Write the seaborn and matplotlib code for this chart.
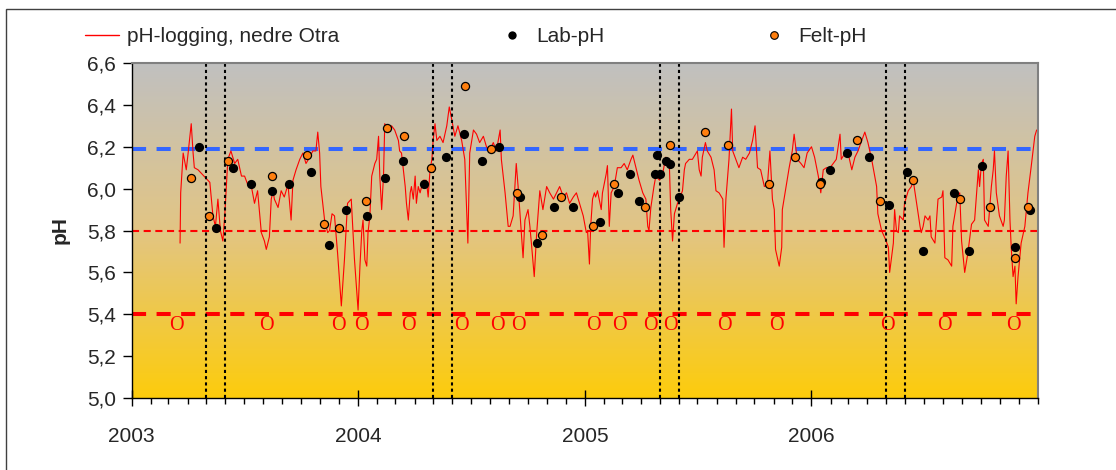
import numpy as np
import pandas as pd
import seaborn as sns
import matplotlib.pyplot as plt
import matplotlib.dates as mdates
from matplotlib.lines import Line2D
from matplotlib.patches import Rectangle
from matplotlib.colors import LinearSegmentedColormap

# day numbers are counted from 2003-01-01
start = pd.Timestamp('2003-01-01')

log_days_2003 = [78, 79, 83, 88, 91, 96, 99, 101, 107, 126, 131, 135, 139, 143, 147, 150, 152, 155,
                 160, 166, 171, 177, 182, 187, 193, 198, 203, 209, 214, 217, 222, 225, 228, 230,
                 236, 241, 246, 252, 257, 260, 265, 271, 276, 281, 287, 292, 297, 300, 303, 305,
                 311, 316, 319, 323, 327, 332, 338, 343, 348, 354, 359, 365]
log_ph_2003 = [5.74, 5.98, 6.17, 6.09, 6.17, 6.31, 6.17, 6.10, 6.09, 6.03, 5.87, 5.82, 5.95, 5.80,
               5.75, 5.87, 5.98, 6.14, 6.18, 6.12, 6.14, 6.06, 6.06, 6.02, 6.01, 5.93, 5.99, 5.79,
               5.75, 5.71, 5.77, 5.95, 5.99, 5.95, 5.91, 5.99, 5.96, 6.02, 5.85, 6.04, 6.09, 6.14,
               6.17, 6.12, 6.15, 6.18, 6.18, 6.27, 6.17, 6.01, 5.85, 5.79, 5.80, 5.88, 5.87, 5.69,
               5.44, 5.66, 5.93, 5.95, 5.67, 5.42]

log_days_2004 = [368, 371, 373, 376, 379, 381, 384, 387, 392, 395, 398, 400, 403, 406, 408, 414,
                 419, 424, 430, 432, 435, 438, 441, 443, 446, 449, 451, 454, 457, 459, 462, 465,
                 470, 475, 478, 481, 484, 486, 489, 492, 497, 502, 508, 512, 516, 521, 526, 532,
                 537, 542, 545, 551, 556, 561, 567, 572, 577, 583, 588, 594, 596, 602, 607, 610,
                 615, 620, 623, 626, 631, 634, 639, 642, 645, 649, 653, 658, 663, 669, 674, 680,
                 685, 690, 696, 701, 706, 712, 717, 722, 728, 733]
log_ph_2004 = [5.63, 5.80, 5.85, 5.66, 5.63, 5.79, 5.87, 6.06, 6.12, 6.14, 6.25, 6.06, 5.90, 6.06,
               6.31, 6.28, 6.30, 6.28, 6.23, 6.18, 6.17, 6.09, 6.01, 5.93, 5.85, 5.98, 6.01, 5.95,
               6.06, 5.93, 6.01, 5.98, 6.04, 6.04, 5.96, 6.09, 6.14, 6.23, 6.31, 6.23, 6.25, 6.22,
               6.30, 6.39, 6.33, 6.25, 6.30, 6.23, 6.14, 5.74, 6.17, 6.28, 6.26, 6.22, 6.25, 6.20,
               6.18, 6.22, 6.18, 6.28, 6.14, 5.98, 5.82, 5.82, 5.87, 6.12, 6.01, 5.88, 5.67, 5.85,
               5.90, 5.82, 5.72, 5.58, 5.79, 5.99, 5.90, 6.01, 5.98, 5.95, 5.98, 6.01, 5.96, 5.98,
               5.93, 5.96, 5.98, 5.93, 5.87, 5.79]

log_days_2005 = [735, 738, 740, 743, 746, 748, 751, 757, 759, 765, 767, 770, 773, 778, 783, 789,
                 794, 799, 805, 808, 813, 818, 824, 829, 832, 834, 837, 842, 845, 851, 856, 861,
                 867, 869, 872, 875, 877, 880, 883, 888, 891, 893, 899, 904, 910, 912, 915, 918,
                 920, 925, 928, 934, 939, 942, 947, 953, 955, 958, 963, 967, 969, 974, 979, 985,
                 990, 996, 1001, 1005, 1009, 1014, 1020, 1025, 1029, 1033, 1036, 1038, 1044, 1048,
                 1049, 1055, 1060, 1065, 1068, 1073, 1079, 1084, 1089]
log_ph_2005 = [5.80, 5.64, 5.82, 5.95, 5.98, 5.96, 5.99, 5.90, 5.98, 6.07, 6.11, 5.82, 5.98, 6.01,
               6.10, 6.10, 6.12, 6.09, 6.14, 6.16, 6.10, 6.04, 5.98, 5.95, 5.82, 5.80, 5.91, 6.01,
               6.06, 6.04, 6.07, 6.15, 6.10, 5.90, 5.75, 5.88, 5.90, 5.93, 5.95, 5.99, 6.09, 6.12,
               6.14, 6.14, 6.17, 6.18, 6.09, 6.06, 6.15, 6.22, 6.18, 6.15, 6.09, 5.99, 5.98, 5.95,
               5.72, 5.95, 6.14, 6.38, 6.18, 6.14, 6.10, 6.15, 6.14, 6.17, 6.23, 6.30, 6.10, 6.09,
               6.01, 6.02, 6.18, 5.95, 5.90, 5.71, 5.63, 5.72, 5.90, 6.01, 6.10, 6.18, 6.26, 6.14,
               6.12, 6.10, 6.17]

log_days_2006 = [1096, 1101, 1107, 1111, 1115, 1120, 1126, 1131, 1136, 1142, 1144, 1150, 1155, 1161,
                 1166, 1171, 1177, 1182, 1187, 1193, 1198, 1201, 1203, 1209, 1215, 1220, 1222, 1228,
                 1230, 1233, 1236, 1238, 1244, 1246, 1252, 1257, 1260, 1263, 1268, 1271, 1273, 1276,
                 1279, 1284, 1287, 1289, 1295, 1300, 1306, 1308, 1311, 1316, 1322, 1324, 1330, 1335,
                 1338, 1343, 1348, 1354, 1359, 1365, 1367, 1370, 1373, 1375, 1381, 1386, 1389, 1391,
                 1394, 1399, 1405, 1407, 1410, 1413, 1416, 1418, 1421, 1424, 1426, 1429, 1434, 1440,
                 1445, 1450, 1456, 1459]
log_ph_2006 = [6.20, 6.15, 6.06, 5.98, 6.09, 6.10, 6.10, 6.12, 6.14, 6.26, 6.14, 6.17, 6.17, 6.09,
               6.15, 6.18, 6.23, 6.27, 6.22, 6.14, 6.06, 6.01, 5.88, 5.80, 5.76, 5.72, 5.60, 5.74,
               5.90, 5.80, 5.79, 5.87, 5.85, 5.93, 5.99, 6.01, 6.04, 5.98, 5.88, 5.82, 5.79, 5.82,
               5.87, 5.85, 5.87, 5.77, 5.74, 5.95, 5.96, 5.99, 5.67, 5.66, 5.63, 5.82, 5.93, 5.98,
               5.75, 5.60, 5.69, 5.83, 5.85, 6.09, 6.01, 6.12, 6.14, 5.85, 5.82, 6.01, 6.09, 6.18,
               5.98, 5.87, 5.82, 5.85, 6.06, 6.18, 5.85, 5.72, 5.58, 5.63, 5.45, 5.58, 5.74, 5.82,
               5.98, 6.10, 6.25, 6.28]

lab_days = [108, 136, 163, 192, 227, 253, 289, 318, 346, 380, 408, 437, 471, 506, 535, 564, 592,
            626, 654, 681, 712, 755, 784, 804, 818, 843, 847, 852, 861, 868, 882, 1112, 1126, 1154,
            1188, 1221, 1250, 1276, 1326, 1350, 1371, 1424, 1448]
lab_ph = [6.20, 5.81, 6.10, 6.02, 5.99, 6.02, 6.08, 5.73, 5.90, 5.87, 6.05, 6.13, 6.02, 6.15, 6.26,
          6.13, 6.20, 5.96, 5.74, 5.91, 5.91, 5.84, 5.98, 6.07, 5.94, 6.07, 6.16, 6.07, 6.13, 6.12,
          5.96, 6.03, 6.09, 6.17, 6.15, 5.92, 6.08, 5.70, 5.98, 5.70, 6.11, 5.72, 5.90]

felt_days = [96, 124, 155, 227, 282, 310, 334, 378, 411, 439, 483, 537, 580, 621, 662, 692, 744,
             777, 827, 868, 925, 961, 1028, 1070, 1110, 1169, 1207, 1259, 1336, 1383, 1424, 1445]
felt_ph = [6.05, 5.87, 6.13, 6.06, 6.16, 5.83, 5.81, 5.94, 6.29, 6.25, 6.10, 6.49, 6.19, 5.98, 5.78,
           5.96, 5.82, 6.02, 5.91, 6.21, 6.27, 6.21, 6.02, 6.15, 6.02, 6.23, 5.94, 6.04, 5.95, 5.91,
           5.67, 5.91]

# days marked with "O" under the 5,4 line
low_days = [72, 217, 333, 371, 446, 532, 590, 623, 744, 786, 837, 869, 955, 1040, 1218, 1311, 1422]

survey_lines = ['2003-05-01', '2003-06-01', '2004-05-01', '2004-06-01',
                '2005-05-01', '2005-06-01', '2006-05-01', '2006-06-01']

level_blue = 6.19
level_red_thin = 5.8
level_red_thick = 5.4
o_level = 5.325

year_ticks = ['2003-01-01', '2004-01-01', '2005-01-01', '2006-01-01']
year_labels = ['2003', '2004', '2005', '2006']
y_ticks = [5.0, 5.2, 5.4, 5.6, 5.8, 6.0, 6.2, 6.4, 6.6]
y_labels = ['5,0', '5,2', '5,4', '5,6', '5,8', '6,0', '6,2', '6,4', '6,6']


def to_dates(days):
    return start + pd.to_timedelta(np.asarray(days), unit='D')


log = pd.DataFrame({
    'date': to_dates(log_days_2003 + log_days_2004 + log_days_2005 + log_days_2006),
    'ph': log_ph_2003 + log_ph_2004 + log_ph_2005 + log_ph_2006,
})
lab = pd.DataFrame({'date': to_dates(lab_days), 'ph': lab_ph})
felt = pd.DataFrame({'date': to_dates(felt_days), 'ph': felt_ph})

sns.set_style('ticks')
plt.rcParams['font.family'] = ['Liberation Sans', 'DejaVu Sans']
plt.rcParams['font.size'] = 15

fig = plt.figure(figsize=(11.16, 4.7), dpi=100)
ax = fig.add_axes([0.118, 0.153, 0.812, 0.713])

# gradient background, gray at the top, gold at the bottom
cmap = LinearSegmentedColormap.from_list('bg', [(0, '#c0c0c0'), (0.5, '#e2c584'), (1, '#fdcc0c')])
ax.imshow(np.linspace(0, 1, 256)[:, None], cmap=cmap, aspect='auto',
          extent=[0, 1, 0, 1], transform=ax.transAxes, zorder=0)

ax.axhline(level_blue, color='#3366ff', lw=2.9, dashes=(3.5, 2.6), zorder=1)
ax.axhline(level_red_thin, color='red', lw=1.5, dashes=(3.4, 2.2), zorder=1)
ax.axhline(level_red_thick, color='red', lw=2.9, dashes=(3.5, 2.6), zorder=1)

sns.lineplot(data=log, x='date', y='ph', color='red', lw=0.8, estimator=None,
             sort=False, ax=ax, zorder=2)

for d in survey_lines:
    ax.axvline(pd.Timestamp(d), color='black', lw=1.5, dashes=(1.5, 1.5), zorder=2.5)

sns.scatterplot(data=lab, x='date', y='ph', color='black', s=44, linewidth=0, ax=ax, zorder=3)
sns.scatterplot(data=felt, x='date', y='ph', color='#ff7f0e', s=34, edgecolor='black',
                linewidth=0.9, ax=ax, zorder=3.5)

for d in to_dates(low_days):
    ax.text(d, o_level, 'O', color='red', fontsize=14.5, family='Liberation Serif',
            ha='center', va='baseline', zorder=3)

ax.set_xlim(pd.Timestamp('2003-01-01'), pd.Timestamp('2007-01-01'))
ax.set_ylim(5.0, 6.6)
ax.set_xticks(mdates.date2num(pd.to_datetime(year_ticks)))
ax.set_xticklabels(year_labels)
ax.xaxis.set_minor_locator(mdates.MonthLocator())
ax.set_yticks(y_ticks)
ax.set_yticklabels(y_labels)
ax.tick_params(axis='x', which='major', direction='inout', length=11, width=1, pad=15,
               labelsize=15, color='black')
ax.tick_params(axis='x', which='minor', direction='out', length=4, width=1, color='black')
ax.tick_params(axis='y', direction='out', length=6.5, width=1, pad=5, labelsize=15, color='black')
ax.set_xlabel('')
ax.set_ylabel('pH', fontweight='bold', fontsize=15, labelpad=12)

for side in ['left', 'bottom']:
    ax.spines[side].set_color('black')
    ax.spines[side].set_linewidth(1)
for side in ['top', 'right']:
    ax.spines[side].set_color('#808080')
    ax.spines[side].set_linewidth(1.5)

# legend entries laid out as three separate pieces across the top
h_log = Line2D([], [], color='red', lw=1)
h_lab = Line2D([], [], color='black', marker='o', ls='none', markersize=6, markeredgewidth=0)
h_felt = Line2D([], [], color='#ff7f0e', marker='o', ls='none', markersize=5.5,
                markeredgecolor='black', markeredgewidth=0.8)
for handle, text, left in [(h_log, 'pH-logging, nedre Otra', 85),
                           (h_lab, 'Lab-pH', 495), (h_felt, 'Felt-pH', 757)]:
    leg = fig.legend(handles=[handle], labels=[text], loc='center left',
                     bbox_to_anchor=(left / 1116, 1 - 37 / 470), frameon=False, borderpad=0,
                     borderaxespad=0, handlelength=1.65, handletextpad=0.35, fontsize=15)

# outer chart frame
fig.add_artist(Rectangle((6 / 1116, -0.1), 1.2, 1.1 - 9 / 470, transform=fig.transFigure,
                         fill=False, edgecolor='#404040', lw=1))

fig.savefig('out.png', dpi=100)
